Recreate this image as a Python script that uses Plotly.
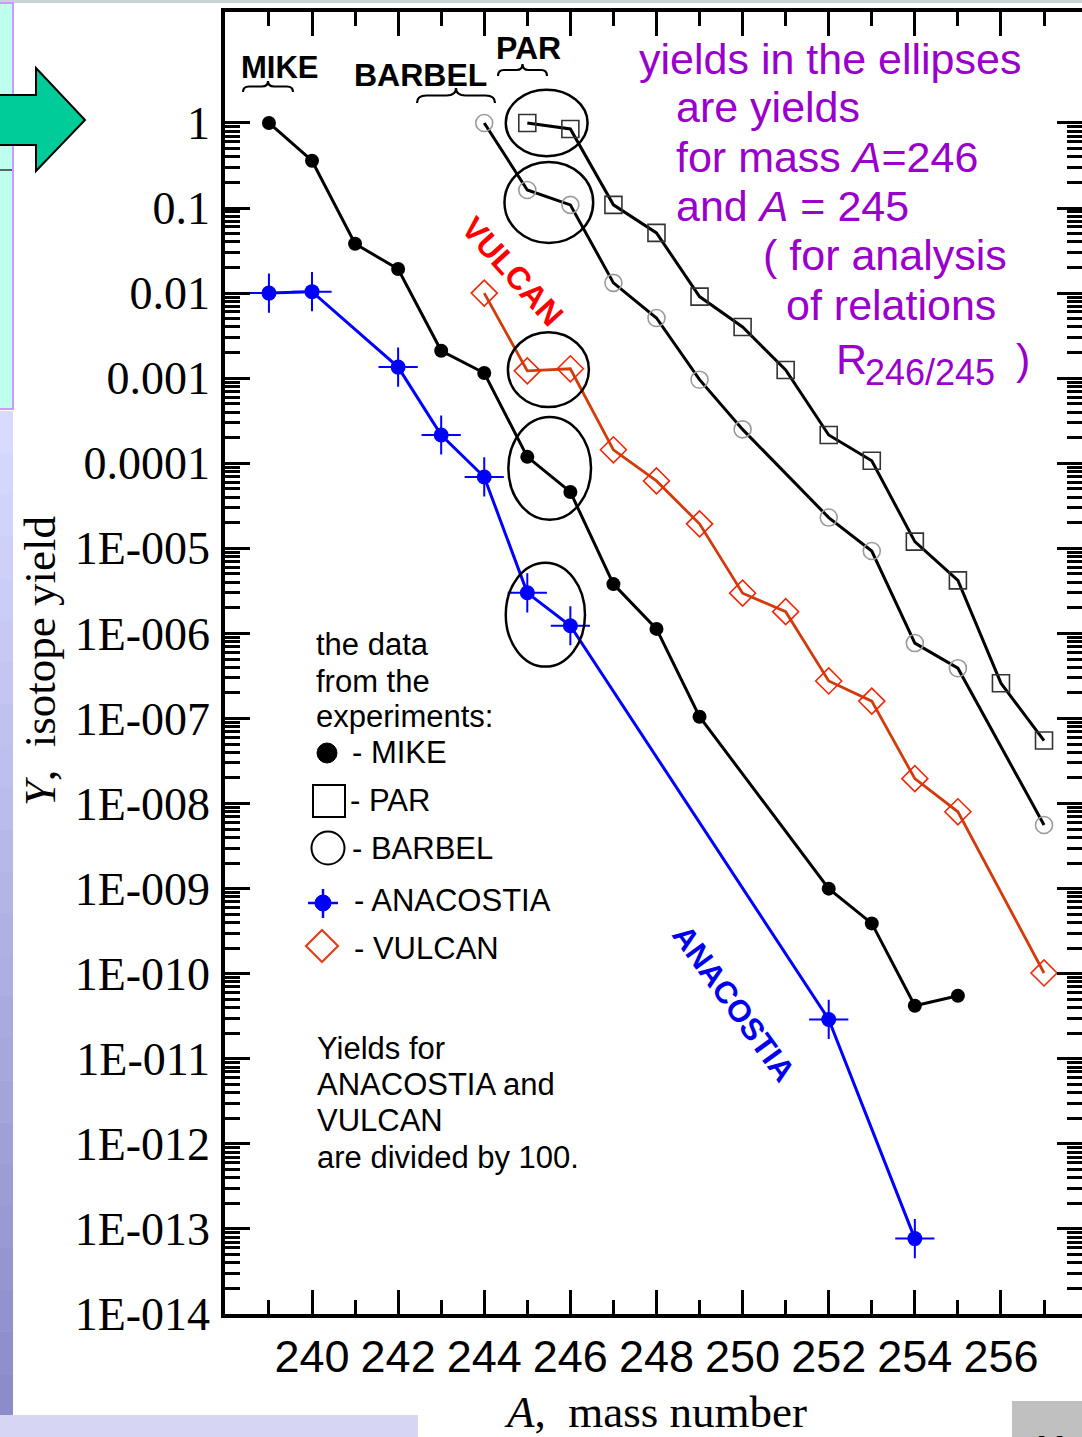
import numpy as np
import plotly.graph_objects as go

# ---------------- data ----------------
mike_A = [239, 240, 241, 242, 243, 244, 245, 246, 247, 248, 249, 252, 253, 254, 255]
mike_Y = [1.0, 0.36, 0.038, 0.0192, 0.0021, 0.00115, 1.19e-4, 4.6e-5, 3.8e-6, 1.13e-6,
          1.05e-7, 1.0e-9, 3.9e-10, 4.2e-11, 5.5e-11]

par_A = [245, 246, 247, 248, 249, 250, 251, 252, 253, 254, 255, 256, 257]
par_Y = [1.0, 0.85, 0.109, 0.051, 0.0091, 0.0040, 0.00125, 2.15e-4, 1.07e-4, 1.2e-5,
         4.2e-6, 2.6e-7, 5.5e-8]

barbel_A = [244, 245, 246, 247, 248, 249, 250, 252, 253, 254, 255, 257]
barbel_Y = [1.0, 0.163, 0.109, 0.0132, 0.0051, 9.6e-4, 2.5e-4, 2.3e-5, 9.3e-6, 7.7e-7,
            3.9e-7, 5.6e-9]

vulcan_A = [244, 245, 246, 247, 248, 249, 250, 251, 252, 253, 254, 255, 257]
vulcan_Y = [0.01, 0.00122, 0.00129, 1.44e-4, 6.2e-5, 1.94e-5, 2.97e-6, 1.8e-6, 2.76e-7,
            1.6e-7, 1.96e-8, 8.0e-9, 1.02e-10]

anacostia_A = [239, 240, 242, 243, 244, 245, 246, 252, 254]
anacostia_Y = [0.01, 0.0104, 0.00135, 2.15e-4, 6.9e-5, 3.0e-6, 1.23e-6, 2.9e-11, 7.7e-14]

# ellipses around the A=245/246 pairs (centre A, half width in A, centre log10 Y, half height in decades)
ell_A_c = [245.45, 245.50, 245.49, 245.52, 245.42]
ell_A_h = [0.95, 1.03, 0.94, 0.96, 0.92]
ell_L_c = [0.0, -0.934, -2.90, -4.06, -5.78]
ell_L_h = [0.39, 0.476, 0.44, 0.605, 0.61]

x_tick_vals = [240, 242, 244, 246, 248, 250, 252, 254, 256]
x_tick_text = ["240", "242", "244", "246", "248", "250", "252", "254", "256"]
x_minor_vals = [239, 241, 243, 245, 247, 249, 251, 253, 255, 257]
y_tick_exp = list(range(-14, 1))
y_tick_text = ["1E-014", "1E-013", "1E-012", "1E-011", "1E-010", "1E-009", "1E-008",
               "1E-007", "1E-006", "1E-005", "0.0001", "0.001", "0.01", "0.1", "1"]

# ---------------- layout geometry (pixels) ----------------
W, H = 1082, 1437
L, R, T, B = 225, 1082, 12, 1314


def px(x):
    return (x - L) / (R - L)


def py(y):
    return (B - y) / (B - T)


fig = go.Figure()

# ---- series ----
fig.add_trace(go.Scatter(x=mike_A, y=mike_Y, mode="lines+markers", name="MIKE",
                         line=dict(color="black", width=3),
                         marker=dict(symbol="circle", size=14, color="black")))
fig.add_trace(go.Scatter(x=par_A, y=par_Y, mode="lines+markers", name="PAR",
                         line=dict(color="black", width=3),
                         marker=dict(symbol="square-open", size=17, color="#333333",
                                     line=dict(color="#333333", width=1.6))))
fig.add_trace(go.Scatter(x=barbel_A, y=barbel_Y, mode="lines+markers", name="BARBEL",
                         line=dict(color="black", width=3),
                         marker=dict(symbol="circle-open", size=17, color="#9A9A9A",
                                     line=dict(color="#9A9A9A", width=1.6))))
fig.add_trace(go.Scatter(x=vulcan_A, y=vulcan_Y, mode="lines+markers", name="VULCAN",
                         line=dict(color="#D23C0A", width=2.8),
                         marker=dict(symbol="diamond-open", size=20, color="#F0280A",
                                     line=dict(color="#F0280A", width=1.6))))
fig.add_trace(go.Scatter(x=anacostia_A, y=anacostia_Y, mode="lines+markers", name="ANACOSTIA",
                         line=dict(color="#0000FF", width=3),
                         marker=dict(symbol="circle", size=15, color="#0000FF")))
fig.add_trace(go.Scatter(x=anacostia_A, y=anacostia_Y, mode="markers", showlegend=False,
                         marker=dict(symbol="cross-thin-open", size=28, color="#0000FF",
                                     line=dict(color="#0000FF", width=2))))

shapes = []
# ---- ellipses ----
for ac, ah, lc, lh in zip(ell_A_c, ell_A_h, ell_L_c, ell_L_h):
    shapes.append(dict(type="circle", xref="x", yref="y",
                       x0=ac - ah, x1=ac + ah, y0=10 ** (lc - lh), y1=10 ** (lc + lh),
                       line=dict(color="black", width=2.5)))


# ---- braces under labels ----
def brace(x0, x1, ytop, ybot):
    xm = (x0 + x1) / 2
    ym = (ytop + ybot) / 2
    q = (x1 - x0) * 0.12
    pts = (f"M {px(x0)},{py(ybot)} Q {px(x0)},{py(ym)} {px(x0 + q)},{py(ym)} "
           f"L {px(xm - q)},{py(ym)} Q {px(xm)},{py(ym)} {px(xm)},{py(ytop)} "
           f"Q {px(xm)},{py(ym)} {px(xm + q)},{py(ym)} "
           f"L {px(x1 - q)},{py(ym)} Q {px(x1)},{py(ym)} {px(x1)},{py(ybot)}")
    return dict(type="path", xref="paper", yref="paper", path=pts,
                line=dict(color="black", width=2.2))


shapes.append(brace(243, 293, 81, 92))
shapes.append(brace(417, 495, 88, 103))
shapes.append(brace(498, 547, 64, 76))

# ---- legend symbols ----
def circ(cx, cy, r, fill, color, w):
    return dict(type="circle", xref="paper", yref="paper",
                x0=px(cx - r), x1=px(cx + r), y0=py(cy + r), y1=py(cy - r),
                fillcolor=fill, line=dict(color=color, width=w))


shapes.append(circ(327, 753, 10, "black", "black", 1))
shapes.append(dict(type="rect", xref="paper", yref="paper",
                   x0=px(313), x1=px(345), y0=py(817), y1=py(785),
                   line=dict(color="black", width=2)))
shapes.append(circ(328, 848, 16.5, "rgba(0,0,0,0)", "black", 2))
shapes.append(circ(323, 903, 8, "#0000FF", "#0000FF", 1))
shapes.append(dict(type="line", xref="paper", yref="paper", x0=px(308), x1=px(338),
                   y0=py(903), y1=py(903), line=dict(color="#0000FF", width=2.5)))
shapes.append(dict(type="line", xref="paper", yref="paper", x0=px(323), x1=px(323),
                   y0=py(889), y1=py(918), line=dict(color="#0000FF", width=2.5)))
shapes.append(dict(type="path", xref="paper", yref="paper",
                   path=(f"M {px(322)},{py(930)} L {px(338)},{py(946)} "
                         f"L {px(322)},{py(962)} L {px(306)},{py(946)} Z"),
                   line=dict(color="#E0401A", width=2.2)))

# ---- slide decorations outside the chart ----
shapes.append(dict(type="rect", xref="paper", yref="paper", layer="above",
                   x0=px(0), x1=px(W), y0=py(3), y1=py(-2),
                   fillcolor="#C9D3D3", line=dict(width=0)))
shapes.append(dict(type="rect", xref="paper", yref="paper", layer="above",
                   x0=px(-5), x1=px(13), y0=py(409), y1=py(3),
                   fillcolor="#BFFFEE", line=dict(color="#CC99FF", width=2)))
shapes.append(dict(type="line", xref="paper", yref="paper", layer="above",
                   x0=px(0), x1=px(12), y0=py(170), y1=py(170),
                   line=dict(color="#333333", width=1.5)))
n_seg = 24
top_c = np.array([216, 219, 255])
bot_c = np.array([140, 140, 202])
seg_edges = np.linspace(411, 1415, n_seg + 1)
for i in range(n_seg):
    t = i / (n_seg - 1)
    c = (top_c * (1 - t) + bot_c * t).astype(int)
    shapes.append(dict(type="rect", xref="paper", yref="paper", layer="above",
                       x0=px(0), x1=px(13), y0=py(seg_edges[i + 1] + 0.5), y1=py(seg_edges[i]),
                       fillcolor=f"rgb({c[0]},{c[1]},{c[2]})", line=dict(width=0)))
shapes.append(dict(type="rect", xref="paper", yref="paper", layer="above",
                   x0=px(0), x1=px(418), y0=py(1440), y1=py(1415),
                   fillcolor="#D6D6F4", line=dict(width=0)))
shapes.append(dict(type="rect", xref="paper", yref="paper", layer="above",
                   x0=px(1012), x1=px(1085), y0=py(1440), y1=py(1401),
                   fillcolor="#C0C0C0", line=dict(width=0)))
shapes.append(dict(type="path", xref="paper", yref="paper", layer="above",
                   path=(f"M {px(-3)},{py(95)} L {px(36)},{py(95)} L {px(36)},{py(68)} "
                         f"L {px(85)},{py(120)} L {px(36)},{py(171)} L {px(36)},{py(145)} "
                         f"L {px(-3)},{py(145)} Z"),
                   fillcolor="#00CC99", line=dict(color="black", width=2)))

# ---------------- annotations ----------------
ann = []


def text(s, x, baseline, size, color="black", family="Liberation Sans", anchor="left",
         angle=0, bold=False):
    if bold:
        s = f"<b>{s}</b>"
    ann.append(dict(text=s, xref="paper", yref="paper", x=px(x), y=py(baseline - 0.35 * size),
                    xanchor=anchor, yanchor="middle", showarrow=False, textangle=angle,
                    font=dict(family=family, size=size, color=color)))


def centered(s, x, y, size, color="black", family="Liberation Sans", angle=0, bold=False):
    if bold:
        s = f"<b>{s}</b>"
    ann.append(dict(text=s, xref="paper", yref="paper", x=px(x), y=py(y),
                    xanchor="center", yanchor="middle", showarrow=False, textangle=angle,
                    font=dict(family=family, size=size, color=color)))


# experiment labels at top
text("MIKE", 239, 78, 31, bold=True)
text("BARBEL", 352, 86, 32, bold=True)
text("PAR", 494, 59, 32, bold=True)

# purple note
purple = "#9A00CC"
text("yields in the ellipses", 637, 74, 43, purple)
text("are yields", 674, 122, 43, purple)
text("for mass <i>A</i>=246", 674, 172, 43, purple)
text("and <i>A</i> = 245", 674, 221, 43, purple)
text("( for analysis", 761, 270, 43, purple)
text("of relations", 784, 320, 43, purple)
text("R", 834, 374, 43, purple)
text("246/245", 863, 385, 36, purple)
text(")", 1014, 374, 43, purple)

# legend text block
text("the data", 314, 655, 31)
text("from the", 314, 692, 31)
text("experiments:", 314, 727, 31)
text("- MIKE", 350, 763, 31)
text("- PAR", 348, 811, 31)
text("- BARBEL", 350, 859, 31)
text("- ANACOSTIA", 352, 911, 31)
text("- VULCAN", 352, 959, 31)

text("Yields for", 315, 1059, 31)
text("ANACOSTIA and", 315, 1095, 31)
text("VULCAN", 315, 1131, 31)
text("are divided by 100.", 315, 1168, 31)

# rotated series labels
centered("VULCAN", 512, 271, 32, color="#FF0000", angle=48, bold=True)
centered("ANACOSTIA", 734, 1003, 31, color="#0000EE", angle=54, bold=True)

# axis titles
centered("<i>A</i>,  mass number", 655, 1412, 45, family="Liberation Serif")
centered("<i>Y</i>,  isotope yield", 40, 661, 45, family="Liberation Serif", angle=-90)

# page number in the grey box (mostly off the page)
ann.append(dict(text="<b>11</b>", xref="paper", yref="paper", x=px(1050), y=py(1427),
                xanchor="center", yanchor="top", showarrow=False,
                font=dict(family="Liberation Sans", size=36, color="black")))

fig.update_layout(
    width=W, height=H,
    margin=dict(l=L, r=W - R, t=T, b=H - B, pad=0),
    paper_bgcolor="white", plot_bgcolor="white",
    showlegend=False,
    shapes=shapes,
    annotations=ann,
    xaxis=dict(
        range=[240 - (312 - L) / 43.06, 240 + (R - 312) / 43.06],
        tickmode="array", tickvals=x_tick_vals, ticktext=x_tick_text,
        ticks="inside", ticklen=24, tickwidth=3, tickcolor="black",
        showline=True, linewidth=3.5, linecolor="black", mirror="allticks",
        showgrid=False, zeroline=False, automargin=False,
        tickfont=dict(family="Liberation Sans", size=45, color="black"),
        ticklabelstandoff=0,
        minor=dict(tickmode="array", tickvals=x_minor_vals, ticks="inside", ticklen=14,
                   tickwidth=2.5, tickcolor="black", showgrid=False),
    ),
    yaxis=dict(
        type="log", range=[-14.0, (123 - T) / 85.1],
        tickmode="array", tickvals=[10.0 ** k for k in y_tick_exp], ticktext=y_tick_text,
        ticks="inside", ticklen=25, tickwidth=3, tickcolor="black",
        showline=True, linewidth=3.5, linecolor="black", mirror="allticks",
        showgrid=False, zeroline=False, automargin=False,
        tickfont=dict(family="Liberation Serif", size=46, color="black"),
        ticklabelstandoff=2,
        minor=dict(tickmode="array",
                   tickvals=[m * 10.0 ** k for k in range(-14, 0) for m in range(2, 10)],
                   ticks="inside", ticklen=15, tickwidth=2.5, tickcolor="black",
                   showgrid=False),
    ),
)

fig.write_html("out.html")
